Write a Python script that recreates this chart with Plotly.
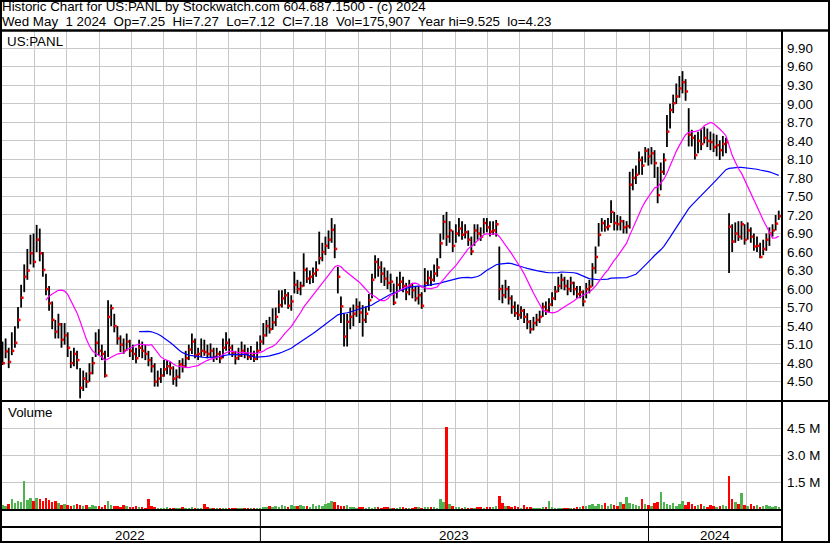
import plotly.graph_objects as go
import pandas as pd

# ---------------- data (one bar = two trading days, May 2022 - May 1 2024) ----------------
close = [
    4.80, 4.99, 4.82, 5.00, 5.13, 5.50, 5.86, 6.20, 6.30, 6.58,
    6.44, 6.80, 6.58, 6.31, 6.00, 5.77, 5.50, 5.31, 5.43, 5.18,
    5.25, 5.05, 4.80, 4.95, 4.85, 4.40, 4.55, 4.50, 4.64, 4.80,
    5.13, 5.00, 4.95, 4.60, 5.55, 5.69, 5.40, 5.20, 5.10, 5.00,
    5.15, 5.00, 4.95, 4.88, 5.05, 5.00, 4.95, 4.85, 4.75, 4.50,
    4.55, 4.60, 4.70, 4.75, 4.72, 4.55, 4.58, 4.78, 4.75, 4.88,
    5.02, 5.15, 4.93, 4.95, 5.00, 4.98, 4.95, 5.00, 4.90, 4.95,
    4.88, 5.05, 5.13, 5.05, 4.97, 4.88, 4.92, 5.00, 4.95, 4.90,
    4.92, 4.87, 5.00, 5.15, 5.25, 5.40, 5.35, 5.46, 5.55, 5.74,
    5.85, 5.90, 5.73, 5.80, 6.07, 6.00, 6.05, 6.31, 6.17, 6.20,
    6.25, 6.31, 6.50, 6.60, 6.70, 6.80, 6.96, 6.65, 6.20, 5.72,
    5.23, 5.47, 5.55, 5.60, 5.71, 5.62, 5.50, 5.60, 5.82, 6.15,
    6.44, 6.35, 6.25, 6.17, 6.10, 6.12, 5.78, 6.07, 6.12, 6.05,
    5.95, 6.05, 5.98, 5.85, 5.90, 5.73, 6.10, 6.18, 6.15, 6.25,
    6.35, 6.74, 7.09, 6.85, 6.95, 6.70, 6.90, 6.98, 6.88, 6.92,
    6.80, 6.61, 6.95, 6.90, 6.85, 7.07, 7.00, 6.93, 6.95, 7.05,
    6.00, 5.90, 6.00, 5.85, 5.71, 5.61, 5.58, 5.65, 5.55, 5.47,
    5.35, 5.45, 5.50, 5.55, 5.71, 5.65, 5.75, 5.85, 5.96, 6.05,
    6.15, 6.05, 6.00, 6.10, 6.00, 5.92, 5.95, 5.80, 6.00, 6.04,
    6.34, 6.52, 6.88, 7.07, 7.00, 7.02, 7.25, 7.07, 7.05, 7.10,
    7.00, 7.02, 7.69, 7.80, 7.85, 8.09, 8.00, 8.24, 8.15, 8.20,
    8.04, 7.52, 7.90, 8.09, 8.55, 8.90, 9.01, 9.12, 9.25, 9.35,
    9.20, 8.50, 8.45, 8.17, 8.40, 8.35, 8.45, 8.40, 8.38, 8.30,
    8.33, 8.25, 8.35, 8.38, 7.01, 6.77, 6.90, 6.85, 7.05, 6.80,
    6.95, 6.85, 6.69, 6.70, 6.52, 6.65, 6.80, 6.90, 6.95, 7.06,
    7.18,
]

high = [
    5.15, 5.20, 5.05, 5.30, 5.40, 5.71, 6.07, 6.40, 6.65, 6.88,
    6.90, 7.04, 6.98, 6.60, 6.25, 6.05, 5.80, 5.50, 5.60, 5.45,
    5.45, 5.30, 5.00, 5.05, 5.00, 4.72, 4.68, 4.65, 4.80, 4.90,
    5.30, 5.35, 5.10, 5.00, 5.82, 5.75, 5.60, 5.40, 5.25, 5.20,
    5.28, 5.18, 5.10, 5.05, 5.18, 5.15, 5.10, 5.00, 4.90, 4.80,
    4.68, 4.72, 4.85, 4.85, 4.82, 4.75, 4.70, 4.85, 4.88, 5.00,
    5.10, 5.28, 5.20, 5.05, 5.20, 5.18, 5.10, 5.12, 5.05, 5.05,
    5.00, 5.20, 5.30, 5.20, 5.10, 5.00, 5.05, 5.15, 5.10, 5.05,
    5.08, 5.00, 5.15, 5.25, 5.45, 5.50, 5.55, 5.69, 5.70, 5.98,
    5.98, 6.00, 5.95, 5.90, 6.28, 6.15, 6.12, 6.58, 6.35, 6.30,
    6.35, 6.45, 6.93, 6.75, 6.85, 6.95, 7.15, 7.05, 6.36, 5.88,
    5.60, 5.60, 5.70, 5.75, 5.85, 5.80, 5.74, 5.72, 5.92, 6.25,
    6.55, 6.50, 6.45, 6.35, 6.30, 6.25, 6.09, 6.20, 6.28, 6.20,
    6.10, 6.15, 6.10, 6.05, 6.05, 5.95, 6.34, 6.30, 6.30, 6.40,
    6.50, 6.90, 7.20, 7.25, 7.10, 6.95, 7.05, 7.15, 7.10, 7.05,
    6.95, 6.85, 7.05, 7.05, 7.00, 7.15, 7.15, 7.10, 7.10, 7.12,
    6.69, 6.07, 6.15, 6.05, 5.90, 5.80, 5.75, 5.72, 5.68, 5.61,
    5.50, 5.55, 5.60, 5.65, 5.78, 5.80, 5.85, 5.95, 6.05, 6.20,
    6.25, 6.20, 6.15, 6.20, 6.12, 6.05, 6.05, 5.98, 6.10, 6.15,
    6.42, 6.69, 7.07, 7.15, 7.12, 7.15, 7.44, 7.25, 7.20, 7.18,
    7.12, 7.10, 7.90, 7.95, 8.00, 8.23, 8.15, 8.30, 8.28, 8.30,
    8.25, 7.98, 8.05, 8.20, 8.82, 9.00, 9.15, 9.33, 9.45, 9.53,
    9.40, 8.93, 8.58, 8.50, 8.55, 8.60, 8.63, 8.60, 8.55, 8.52,
    8.50, 8.41, 8.48, 8.45, 7.23, 7.05, 7.08, 7.10, 7.10, 7.05,
    7.08, 7.00, 6.90, 6.85, 6.75, 6.80, 6.90, 7.00, 7.05, 7.20,
    7.27,
]

low = [
    4.77, 4.88, 4.72, 4.93, 5.05, 5.36, 5.70, 5.95, 6.15, 6.40,
    6.35, 6.60, 6.45, 6.20, 5.90, 5.65, 5.35, 5.20, 5.20, 5.05,
    5.10, 4.90, 4.72, 4.75, 4.70, 4.23, 4.35, 4.40, 4.50, 4.62,
    4.90, 4.93, 4.85, 4.57, 4.90, 5.40, 5.30, 5.10, 4.98, 4.95,
    5.00, 4.90, 4.85, 4.80, 4.90, 4.88, 4.85, 4.75, 4.65, 4.42,
    4.42, 4.48, 4.58, 4.62, 4.60, 4.45, 4.42, 4.55, 4.65, 4.72,
    4.85, 4.95, 4.88, 4.85, 4.90, 4.92, 4.88, 4.90, 4.82, 4.85,
    4.80, 4.88, 5.00, 4.95, 4.90, 4.78, 4.85, 4.90, 4.88, 4.85,
    4.85, 4.82, 4.85, 5.00, 5.10, 5.23, 5.28, 5.34, 5.40, 5.61,
    5.70, 5.75, 5.68, 5.65, 5.93, 5.92, 5.90, 6.04, 6.10, 6.08,
    6.10, 6.20, 6.40, 6.45, 6.55, 6.65, 6.75, 6.50, 5.93, 5.45,
    5.07, 5.07, 5.35, 5.40, 5.55, 5.45, 5.23, 5.45, 5.65, 5.85,
    6.17, 6.20, 6.10, 6.05, 6.00, 5.95, 5.74, 5.85, 5.98, 5.95,
    5.82, 5.90, 5.85, 5.80, 5.75, 5.68, 5.95, 6.05, 6.05, 6.12,
    6.20, 6.50, 6.80, 6.70, 6.75, 6.60, 6.75, 6.85, 6.80, 6.82,
    6.70, 6.55, 6.70, 6.80, 6.78, 6.90, 6.92, 6.85, 6.88, 6.85,
    5.82, 5.77, 5.85, 5.75, 5.60, 5.55, 5.50, 5.52, 5.45, 5.35,
    5.28, 5.33, 5.40, 5.45, 5.55, 5.58, 5.62, 5.72, 5.82, 5.95,
    6.00, 5.98, 5.90, 5.95, 5.90, 5.85, 5.85, 5.72, 5.85, 5.93,
    6.04, 6.25, 6.69, 6.93, 6.93, 6.95, 7.07, 6.95, 6.95, 6.95,
    6.90, 6.90, 6.98, 7.60, 7.70, 7.85, 7.85, 8.05, 8.00, 8.02,
    7.80, 7.39, 7.60, 7.85, 8.30, 8.60, 8.85, 9.00, 9.10, 9.17,
    9.05, 8.31, 8.31, 8.10, 8.20, 8.25, 8.36, 8.30, 8.25, 8.22,
    8.15, 8.09, 8.15, 8.20, 6.26, 6.60, 6.75, 6.78, 6.80, 6.72,
    6.80, 6.75, 6.62, 6.60, 6.50, 6.55, 6.62, 6.70, 6.85, 6.95,
    7.12,
]

volume_k = [
    280, 200, 350, 600, 380, 520, 450, 1600, 550, 680,
    500, 650, 600, 520, 650, 560, 440, 480, 380, 280,
    330, 300, 230, 280, 330, 300, 200, 250, 180, 280,
    230, 200, 190, 250, 470, 280, 230, 200, 180, 250,
    200, 180, 150, 230, 160, 180, 130, 580, 210, 150,
    130, 120, 110, 150, 130, 110, 120, 100, 140, 120,
    110, 170, 120, 100, 110, 330, 150, 110, 90, 100,
    130, 90, 110, 100, 90, 120, 100, 90, 100, 80,
    90, 110, 100, 90, 180, 150, 210, 160, 230, 180,
    260, 210, 180, 280, 230, 210, 280, 200, 230, 180,
    310, 210, 280, 230, 310, 380, 480, 430, 280, 210,
    230, 250, 180, 150, 130, 160, 140, 120, 150, 130,
    160, 150, 130, 180, 140, 120, 130, 110, 140, 150,
    120, 130, 110, 180, 150, 130, 160, 140, 180, 150,
    130, 580, 430, 4600, 330, 230, 180, 150, 130, 160,
    110, 130, 120, 140, 150, 130, 160, 150, 180, 210,
    750, 380, 230, 210, 180, 230, 150, 130, 280, 180,
    150, 130, 110, 130, 150, 180, 480, 180, 130, 110,
    130, 100, 110, 90, 120, 150, 180, 210, 230, 280,
    330, 230, 310, 280, 380, 230, 330, 280, 230, 430,
    310, 730, 380, 330, 280, 230, 580, 330, 280, 230,
    380, 430, 970, 430, 330, 280, 380, 230, 330, 480,
    280, 430, 330, 230, 280, 330, 230, 180, 280, 230,
    180, 230, 280, 230, 1850, 630, 430, 330, 930, 280,
    230, 330, 230, 280, 180, 230, 280, 230, 180, 230,
    176,
]

price_ticks = [4.50, 4.80, 5.10, 5.40, 5.70, 6.00, 6.30, 6.60, 6.90, 7.20,
               7.50, 7.80, 8.10, 8.40, 8.70, 9.00, 9.30, 9.60, 9.90]
volume_ticks = [1.5e6, 3.0e6, 4.5e6]
volume_tick_labels = ["1.5 M", "3.0 M", "4.5 M"]
year_labels = ["2022", "2023", "2024"]
year_bounds = [-0.8, 83.05, 208.05, 251.05]   # bar-index positions of year starts

NB = "\u00a0"
title_line1 = "Historic Chart for US:PANL by Stockwatch.com 604.687.1500 - (c) 2024"
title_line2 = (NB * 2).join(["Wed May", "1 2024", "Op=7.25", "Hi=7.27", "Lo=7.12",
                             "Cl=7.18", "Vol=175,907", "Year hi=9.525", "lo=4.23"])

# ---------------- layout helpers ----------------
W, H = 830, 543
FONT = "Liberation Sans, Arial, sans-serif"
FS = 13.33


def px(x):
    return x / W


def py(y):
    return 1 - y / H


n = len(close)
idx = list(range(n))

seg_x, seg_y = [], []
for i in idx:
    seg_x += [i, i, None]
    seg_y += [low[i], high[i], None]

s = pd.Series(close)
ma_fast = s.rolling(15).mean()
ma_slow = s.rolling(45).mean()

vol = [v * 1000 for v in volume_k]
vcolors = []
for i in idx:
    if i == 0 or close[i] > close[i - 1]:
        vcolors.append("#4FB34F")
    elif close[i] < close[i - 1]:
        vcolors.append("#FF0000")
    else:
        vcolors.append("#A8A8A8")

fig = go.Figure()
fig.add_trace(go.Scatter(x=seg_x, y=seg_y, mode="lines",
                         line=dict(color="black", width=1.8),
                         hoverinfo="skip", xaxis="x", yaxis="y"))
fig.add_trace(go.Scatter(x=[i + 0.4 for i in idx], y=close, mode="markers",
                         marker=dict(color="#FF0000", size=2.5, symbol="square",
                                     line=dict(width=0)),
                         hoverinfo="skip", xaxis="x", yaxis="y"))
fig.add_trace(go.Scatter(x=idx, y=ma_slow, mode="lines",
                         line=dict(color="#0000FF", width=1.2),
                         hoverinfo="skip", xaxis="x", yaxis="y"))
fig.add_trace(go.Scatter(x=idx, y=ma_fast, mode="lines",
                         line=dict(color="#FF00FF", width=1.2),
                         hoverinfo="skip", xaxis="x", yaxis="y"))
fig.add_trace(go.Bar(x=idx, y=vol, marker=dict(color=vcolors, line=dict(width=0)),
                     width=0.8, hoverinfo="skip", xaxis="x2", yaxis="y2"))

grid_x = [83.25 + 10.419 * k for k in range(-7, 16)]
x_range = [-0.805, 251.05]
xcommon = dict(range=x_range, showticklabels=False, ticks="", showline=False,
               zeroline=False, showgrid=True, gridcolor="#C8C8C8", gridwidth=1,
               tickmode="array", tickvals=grid_x, fixedrange=True)

fig.update_layout(
    width=W, height=H,
    margin=dict(l=0, r=0, t=0, b=0),
    paper_bgcolor="white", plot_bgcolor="white",
    showlegend=False, bargap=0,
    font=dict(family=FONT, size=FS, color="black"),
    xaxis=dict(domain=[0, px(782)], anchor="y", **xcommon),
    xaxis2=dict(domain=[0, px(782)], anchor="y2", matches="x", **xcommon),
    yaxis=dict(domain=[py(400), py(31)], range=[4.2036, 10.18], side="right",
               anchor="x", tickmode="array", tickvals=price_ticks,
               ticktext=["%.2f" % v for v in price_ticks],
               showgrid=True, gridcolor="#C8C8C8", gridwidth=1, zeroline=False,
               showline=False, ticks="", ticklabelstandoff=4,
               tickfont=dict(family=FONT, size=FS, color="black"), fixedrange=True),
    yaxis2=dict(domain=[py(510), py(402)], range=[0, 5.95e6], side="right",
                anchor="x2", tickmode="array", tickvals=volume_ticks,
                ticktext=volume_tick_labels,
                showgrid=True, gridcolor="#C8C8C8", gridwidth=1, zeroline=False,
                showline=False, ticks="", ticklabelstandoff=4,
                tickfont=dict(family=FONT, size=FS, color="black"), fixedrange=True),
)


def hline(y, x0, x1, w):
    return dict(type="line", xref="paper", yref="paper", x0=px(x0), x1=px(x1),
                y0=py(y), y1=py(y), line=dict(color="black", width=w))


def vline(x, y0, y1, w):
    return dict(type="line", xref="paper", yref="paper", x0=px(x), x1=px(x),
                y0=py(y0), y1=py(y1), line=dict(color="black", width=w))


shapes = [
    dict(type="rect", xref="paper", yref="paper", x0=px(1), x1=px(829),
         y0=py(542), y1=py(1), line=dict(color="black", width=2)),
    hline(30.5, 0, 830, 2.5),
    vline(782, 30, 543, 2),
    hline(401, 0, 830, 2),
    hline(510, 0, 782, 2),
    hline(527, 0, 782, 2),
]
for b in year_bounds[1:3]:
    shapes.append(dict(type="line", xref="x2", yref="paper", x0=b, x1=b,
                       y0=py(543), y1=py(510), line=dict(color="black", width=1)))

annotations = []


def label(text, x, y, xref="paper", xanchor="left"):
    annotations.append(dict(text=text, x=x, y=y, xref=xref, yref="paper",
                            xanchor=xanchor, yanchor="middle", showarrow=False,
                            borderpad=0, borderwidth=0,
                            font=dict(family=FONT, size=FS, color="black")))


label(title_line1, px(2), py(7))
label(title_line2, px(2), py(21.5))
label("US:PANL", px(7), py(41.5))
label("Volume", px(8), py(413))
for k, yl in enumerate(year_labels):
    label(yl, (year_bounds[k] + year_bounds[k + 1]) / 2, py(535), xref="x2",
          xanchor="center")

fig.update_layout(shapes=shapes, annotations=annotations)
fig.write_html("out.html", config={"displayModeBar": False},
               post_script="document.body.style.margin='0';document.body.style.overflow='hidden';")
